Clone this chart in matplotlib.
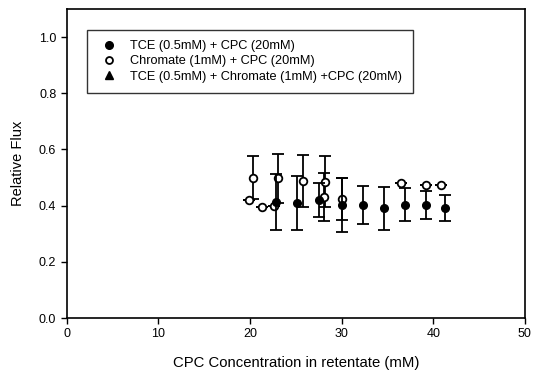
import matplotlib
matplotlib.use("Agg")
import matplotlib.pyplot as plt
from matplotlib.lines import Line2D

plt.rcParams['font.family'] = ['Liberation Sans', 'DejaVu Sans']

# TCE (0.5mM) + CPC (20mM)
tce_x = [22.8, 25.1, 27.5, 30.0, 32.3, 34.6, 36.9, 39.2, 41.3]
tce_y = [0.413, 0.410, 0.420, 0.402, 0.402, 0.390, 0.404, 0.402, 0.392]
tce_err = [0.100, 0.095, 0.060, 0.095, 0.068, 0.078, 0.058, 0.050, 0.046]

# Chromate (1mM) + CPC (20mM)
chr_x = [19.9, 20.35, 21.3, 22.6, 23.0, 25.8, 28.1, 28.2, 30.0, 36.5, 39.2, 40.8]
chr_y = [0.420, 0.500, 0.396, 0.398, 0.497, 0.488, 0.430, 0.485, 0.425, 0.479, 0.475, 0.473]
chr_err = [0.0, 0.075, 0.0, 0.0, 0.088, 0.094, 0.085, 0.090, 0.075, 0.0, 0.0, 0.0]

# TCE (0.5mM) + Chromate (1mM) + CPC (20mM) -- hidden beneath the circles
mix_x = []
mix_y = []

labels = ['TCE (0.5mM) + CPC (20mM)',
          'Chromate (1mM) + CPC (20mM)',
          'TCE (0.5mM) + Chromate (1mM) +CPC (20mM)']

fig = plt.figure(figsize=(5.34, 3.72), dpi=100)
ax = fig.add_axes([0.125, 0.145, 0.858, 0.831])

ax.errorbar(chr_x, chr_y, yerr=chr_err, fmt='o', ms=5.5, mfc='white',
            mec='black', mew=1.3, ecolor='black', elinewidth=1.3,
            capsize=4, capthick=1.3, zorder=3)
ax.errorbar(tce_x, tce_y, yerr=tce_err, fmt='o', ms=5.5, mfc='black',
            mec='black', ecolor='black', elinewidth=1.3,
            capsize=4, capthick=1.3, zorder=4)
ax.plot(mix_x, mix_y, '^', color='black', ms=5)

ax.set_xlim(0, 50)
ax.set_ylim(0, 1.1)
ax.set_xticks([0, 10, 20, 30, 40, 50])
ax.set_yticks([0.0, 0.2, 0.4, 0.6, 0.8, 1.0])
ax.set_yticklabels(['0.0', '0.2', '0.4', '0.6', '0.8', '1.0'])
ax.tick_params(direction='out', length=4, width=1, labelsize=9)
for s in ax.spines.values():
    s.set_linewidth(1.2)

ax.set_xlabel('CPC Concentration in retentate (mM)', fontsize=10.7, labelpad=11)
ax.set_ylabel('Relative Flux', fontsize=10.5, labelpad=10)

handles = [
    Line2D([], [], marker='o', ls='none', color='black', ms=5.5),
    Line2D([], [], marker='o', ls='none', mfc='white', mec='black', mew=1.3, ms=5),
    Line2D([], [], marker='^', ls='none', color='black', ms=5.5),
]
leg = ax.legend(handles, labels, loc='upper left', bbox_to_anchor=(0.044, 0.932),
                fontsize=9.2, frameon=True, fancybox=False, borderpad=0.8,
                handletextpad=0.8, labelspacing=0.25, handlelength=1.8,
                borderaxespad=0)
leg.get_frame().set_edgecolor('black')
leg.get_frame().set_linewidth(1.0)

fig.savefig('out.png', dpi=100)
